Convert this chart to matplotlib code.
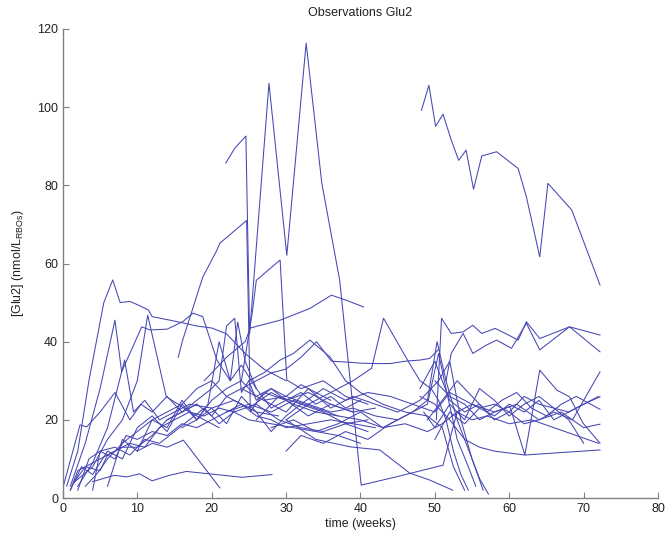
import matplotlib
matplotlib.use("Agg")
import matplotlib.pyplot as plt

plt.rcParams['font.family'] = ['Liberation Sans', 'DejaVu Sans']

# time points (weeks) and Glu2 values for each subject
weeks = []
glu2 = []

# subject with the big spikes
weeks.append([21.9, 23.1, 24.6, 25.1, 27.7, 30.1, 32.7, 34.8, 37.2, 40.1, 45, 51.1, 52, 53, 55, 58, 61, 64, 67, 70, 72.2])
glu2.append([85.7, 89.5, 92.6, 42, 106.1, 62.1, 116.4, 80.6, 55.8, 3.3, 5.5, 8.4, 15, 22, 24, 22, 24, 20, 22, 18, 18.9])
# high subject late
weeks.append([48.2, 49.2, 50.1, 51.1, 52.2, 53.2, 54.2, 55.2, 56.3, 58.3, 61.2, 62.3, 64.1, 65.2, 68.4, 72.2])
glu2.append([99.2, 105.6, 95.1, 98.2, 91.6, 86.4, 89.0, 79.0, 87.5, 88.6, 84.3, 77.1, 61.7, 80.5, 73.7, 54.5])
# rise to 71
weeks.append([15.5, 16.1, 18.8, 20.7, 21.1, 24.7, 25.2, 27, 30, 33, 36, 39])
glu2.append([36, 40.4, 56.5, 63.4, 65.2, 71, 22, 27, 25, 27, 24, 22])
# rise to 61
weeks.append([24, 25.5, 26, 29.2, 30.1, 32, 35, 38, 41])
glu2.append([30, 48, 55.7, 60.9, 30.2, 28, 30, 26, 24])
# long climb to 52
weeks.append([19, 22, 24.5, 25.2, 29.2, 33.2, 36.1, 38.1, 40.4])
glu2.append([30, 36, 40, 43.5, 45.5, 48.5, 51.9, 50.6, 48.9])
# peak 56 early
weeks.append([0.5, 2, 3.5, 5.5, 6.7, 7.7, 9, 10.1, 11.5, 12, 14.4, 16.4, 18, 20, 22, 24.5, 27, 30])
glu2.append([3, 12, 30, 50, 55.8, 50, 50.3, 49.4, 48.1, 46.4, 45.5, 44.7, 44, 43.5, 42, 37, 33, 30])
weeks.append([1, 3, 5, 7, 7.9, 10.6, 11.7, 14, 16.1, 17.5, 18.8, 20.7, 22.5, 24, 26])
glu2.append([3, 14, 28, 45.5, 32.3, 43.8, 43, 43.2, 45.1, 47.3, 46.4, 35.3, 30, 34, 28])
weeks.append([1.5, 4, 6, 8, 10, 11.4, 13.9, 15.5, 17, 19, 21])
glu2.append([4, 8, 15, 20, 30, 46.8, 25.9, 24, 22, 20, 18])
weeks.append([0, 2.3, 3.2, 5, 7, 9, 10.5, 12, 14, 16, 18])
glu2.append([2.6, 18.7, 18.2, 22, 27, 20, 24, 22, 26, 22, 24])
weeks.append([2, 4, 6, 8.3, 9.5, 11, 13, 15, 17, 20, 23, 26, 29])
glu2.append([3, 9, 18, 35.3, 22, 25, 20, 22, 24, 23, 25, 22, 21])
weeks.append([1, 2, 4, 5, 7, 9, 11, 13, 15, 17, 19, 21, 23, 25, 28, 31, 34, 37, 40])
glu2.append([2, 7, 9, 10, 12, 14, 13, 18, 20, 22, 21, 23, 22, 20, 19, 18, 17, 16, 14])
weeks.append([1.5, 3, 5, 6, 8, 10, 12, 14, 16, 18, 20, 22, 25, 28, 31, 34, 37])
glu2.append([4, 8, 7, 11, 13, 13, 16, 20, 22, 24, 21, 26, 23, 27, 24, 22, 21])
weeks.append([2, 3.5, 5, 7, 8.5, 10, 12, 14, 16, 18, 20, 22, 24, 26, 28, 30, 33, 36, 39, 42])
glu2.append([2, 10, 12, 10, 16, 15, 17, 16, 19, 18, 20, 22, 24, 21, 20, 18, 19, 20, 19, 18])
weeks.append([3, 4.5, 6, 8, 10, 12, 14, 16, 18, 20, 22, 24, 27, 30, 33, 36, 39, 42, 45])
glu2.append([3, 6, 10, 14, 17, 20, 22, 24, 28, 30, 26, 28, 25, 26, 24, 22, 23, 21, 20])
weeks.append([4, 5, 7, 9, 11, 13, 15, 17, 19, 21, 23, 26, 29, 32, 35, 38, 41])
glu2.append([2, 12, 13, 11, 15, 14, 17, 20, 23, 19, 22, 24, 20, 18, 17, 19, 20])
weeks.append([1, 2.5, 4, 6, 8, 10, 12, 14, 16, 18, 20, 22, 24, 26, 28, 30, 32, 34, 36, 38, 40])
glu2.append([2, 8, 6, 12, 10, 18, 21, 17, 24, 20, 25, 28, 30, 26, 28, 25, 27, 24, 26, 23, 25])
weeks.append([6, 8, 10, 12, 14, 16, 18, 20, 22, 24, 26, 28, 30, 32, 35, 38, 41])
glu2.append([3, 15, 12, 20, 18, 25, 20, 23, 19, 26, 22, 17, 21, 24, 22, 19, 17])
# low subject
weeks.append([4.0, 6.9, 8.6, 10.3, 12.0, 14.3, 16.6, 20.6, 24.1, 28.1])
glu2.append([4.2, 5.8, 5.4, 6.2, 4.4, 5.8, 6.8, 6.0, 5.3, 6.0])
weeks.append([10, 12, 14, 16.2, 21.1])
glu2.append([12, 14, 13, 14.8, 2.6])
weeks.append([14, 16, 18, 20, 21, 22, 23.1, 24, 25, 26, 28, 30, 32, 34, 36])
glu2.append([20, 22, 25, 28, 30, 44, 46, 27, 30, 25, 28, 26, 29, 27, 25])
weeks.append([16, 18, 19.5, 21, 22.5, 23.5, 24.5, 26, 28, 30, 33, 36, 39, 42])
glu2.append([18, 20, 24, 40, 30, 45, 35, 28, 23, 25, 21, 24, 22, 23])
# middle period
weeks.append([24, 26, 28, 30, 32, 34.1, 36.1, 38, 40, 42, 44, 46, 48, 49.3, 50.5])
glu2.append([28, 30, 32, 33, 36, 40, 35, 34.8, 34.5, 34.4, 34.4, 35, 35.3, 35.7, 38])
weeks.append([30, 33, 36, 39, 41.5, 43.1, 45.3, 46.6, 48, 49.5, 50.5, 51.5, 52.5, 53.5, 54.5])
glu2.append([20, 24, 27, 30, 33.2, 46, 38.7, 34.4, 30, 28, 25, 20, 12, 6, 2])
weeks.append([25, 27, 29.2, 31, 33.2, 35.9, 38, 40, 43, 46, 49, 51, 52.5, 54])
glu2.append([30, 32, 35.3, 37, 40.4, 36.1, 30, 27, 24, 22, 21, 18, 8, 2])
weeks.append([22, 25, 28, 31, 34, 37, 40, 43, 46, 49, 51, 53, 55, 57, 60, 63, 66, 69, 72])
glu2.append([22, 24, 22, 25, 23, 21, 20, 18, 19, 17, 19, 22, 20, 21, 19, 20, 18, 16, 14])
weeks.append([26, 29, 32, 35, 38, 41, 44, 47, 50, 52, 54, 56, 58, 60, 62, 64, 66, 68, 70, 72])
glu2.append([20, 26, 24, 28, 25, 27, 26, 24, 22, 27, 25, 23, 24, 22, 26, 24, 23, 22, 24, 26])
weeks.append([27, 30, 33, 36, 39, 42, 45, 48, 50.5, 52, 53.5, 55, 56.5])
glu2.append([25, 22, 28, 23, 26, 24, 22, 25, 30, 35, 20, 10, 2])
weeks.append([28, 31, 34, 37, 40, 43, 46, 49, 50.5, 51.5, 53, 54.5, 55.5])
glu2.append([18, 20, 17, 19, 22, 18, 21, 24, 37, 28, 15, 8, 3])
weeks.append([30, 32, 35, 38, 41, 44, 47, 49, 50.3, 51.5, 53, 55, 56, 57.2])
glu2.append([12, 16, 14, 17, 15, 19, 22, 25, 40, 30, 20, 10, 5, 1])
weeks.append([30, 34, 38.6, 42.6, 46.6, 49.3, 52.4])
glu2.append([20, 15, 13.1, 12.3, 6.4, 4.6, 2])
# late period
weeks.append([50.2, 50.9, 52.2, 53.8, 55.1, 56.3, 58.1, 59.9, 61.2, 62.3, 64.1, 68.1, 72.2])
glu2.append([20, 46, 42.1, 42.5, 44.2, 42.1, 43.4, 41.7, 40.4, 45.1, 40.8, 43.8, 41.7])
weeks.append([51.5, 52.2, 53.8, 55.1, 56.9, 58.3, 60.3, 62.3, 64.1, 68.1, 72.2])
glu2.append([30, 37, 42.1, 37, 39.1, 40.4, 38.3, 44.7, 37.9, 43.8, 37.4])
weeks.append([48, 50, 52, 54, 56, 58, 62.1, 66, 72.2])
glu2.append([26, 24, 20, 15, 13, 12, 11, 11.5, 12.3])
weeks.append([50, 52, 54, 56, 58, 60.1, 62.1, 64.1, 66.4, 68.1, 69.9, 72.2])
glu2.append([30, 26, 24, 20, 22, 23.4, 11, 32.7, 27.6, 25.9, 19.2, 14])
weeks.append([48, 50, 52, 54, 56, 58, 60, 62, 64, 66, 68.5, 72.2])
glu2.append([28, 35, 25, 22, 24, 20, 22, 19, 20, 22, 20, 32.3])
weeks.append([49, 51, 53, 55, 57, 59, 61, 63, 65, 67, 69, 72.2])
glu2.append([20, 25, 30, 26, 22, 25, 27, 23, 21, 24, 26, 22.7])
weeks.append([48.5, 50, 52, 54, 56, 58, 60, 62, 64, 66, 68, 70])
glu2.append([22, 18, 24, 20, 28, 25, 21, 24, 26, 23, 20, 14])
weeks.append([50, 52, 54, 56, 58, 60, 62, 64, 66, 68, 70, 72.2])
glu2.append([15, 22, 19, 23, 21, 24, 22, 25, 20, 22, 24, 25.9])

fig = plt.figure(figsize=(6.69, 5.37), dpi=100)
ax = fig.add_axes([0.094, 0.0726, 0.8896, 0.8734])

for w, g in zip(weeks, glu2):
    ax.plot(w, g, color='#4646b4', linewidth=0.75)

ax.set_xlim(0, 80)
ax.set_ylim(0, 120)
ax.set_xticks(range(0, 81, 10))
ax.set_yticks(range(0, 121, 20))

for side in ['top', 'right']:
    ax.spines[side].set_visible(False)
for side in ['left', 'bottom']:
    ax.spines[side].set_color('#808080')
    ax.spines[side].set_linewidth(1.0)
ax.tick_params(direction='in', length=4, color='#808080', labelsize=9, labelcolor='#222222')

ax.set_title('Observations Glu2', fontsize=9, color='#222222', pad=9)
ax.set_xlabel('time (weeks)', fontsize=9, color='#222222', labelpad=2)
ax.set_ylabel('[Glu2] (nmol/L$_{\\mathregular{RBOs}}$)', fontsize=9, color='#222222', labelpad=8)

fig.savefig('out.png', dpi=100)
